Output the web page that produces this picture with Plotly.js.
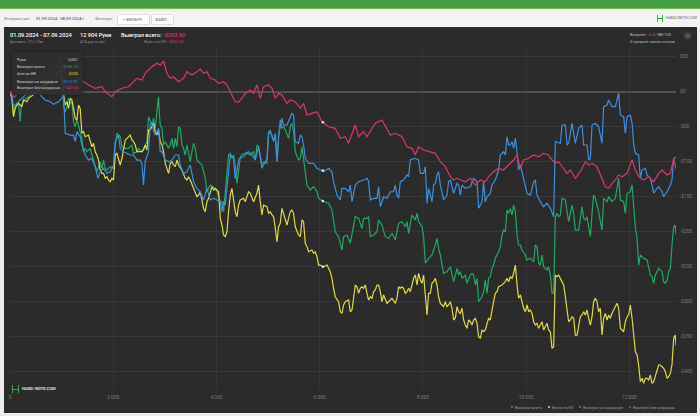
<!DOCTYPE html>
<html><head><meta charset="utf-8">
<script src="https://cdn.plot.ly/plotly-3.0.1.min.js"></script>
<style>
html,body{margin:0;padding:0;}
body{width:700px;height:416px;overflow:hidden;background:#ececec;font-family:Roboto,"Noto Sans",sans-serif;position:relative;}
.abs{position:absolute;white-space:nowrap;line-height:1;}
#topbar{position:absolute;left:0;top:0;width:700px;height:8px;background:#479d45;border-bottom:1.5px solid #6cc04c;}
#toolbar{position:absolute;left:0;top:9.5px;width:700px;height:18px;background:#f3f3f3;}
#panel{position:absolute;left:4px;top:27px;width:693px;height:386px;background:#2b2b2b;}
#chart{position:absolute;left:4px;top:27px;width:693px;height:386px;}
.btn{position:absolute;top:13.5px;height:9px;background:#fff;border:1px solid #dcdcdc;border-radius:1.5px;font-size:4px;color:#555;line-height:9px;text-align:center;}
.tt{font-size:4px;color:#d0d0d0;}
.lg{font-size:3.9px;color:#9a9a9a;}
.hd{font-size:5.6px;color:#fff;font-weight:500;}
.sub{font-size:4px;color:#8a8a8a;}
.dot{display:inline-block;width:2.4px;height:2.4px;border-radius:50%;margin-right:1.6px;vertical-align:middle;position:relative;top:-0.3px;}
</style></head>
<body>
<div id="topbar"></div>
<div id="toolbar"></div>
<div class="abs" style="left:4px;top:16.8px;font-size:4px;color:#7a7a7a;">Интервал дат:</div>
<div class="abs" style="left:36px;top:16.6px;font-size:4.2px;color:#333;">01.09.2024 - 08.09.2024 <span style="color:#999">▾</span></div>
<div class="abs" style="left:95px;top:16.8px;font-size:4px;color:#7a7a7a;">Фильтры:</div>
<div class="btn" style="left:117px;width:31px;"><span style="color:#888">+</span> ФИЛЬТР...</div>
<div class="btn" style="left:151px;width:21px;">ФАЙЛ...</div>
<div class="abs" style="left:657px;top:14.5px;width:6px;height:7px;border-left:1.5px solid #3aa54a;border-right:1.5px solid #3aa54a;box-sizing:border-box;"></div>
<div class="abs" style="left:657px;top:17.6px;width:6px;height:1.2px;background:#3aa54a;"></div>
<div class="abs" style="left:666px;top:16.6px;font-size:3.7px;color:#666;">HAND<span style="color:#3aa54a">2</span>NOTE.COM</div>

<div id="panel"></div>
<div id="chart"></div>

<!-- header inside panel -->
<div class="abs hd" style="left:10px;top:33px;">01.09.2024 - 07.09.2024</div>
<div class="abs sub" style="left:10px;top:40px;">Активен: 27ч 13м</div>
<div class="abs hd" style="left:80px;top:33px;">12 904 Руки</div>
<div class="abs sub" style="left:80px;top:40px;">474 рук в час</div>
<div class="abs hd" style="left:121px;top:33px;">Выиграл всего: <span style="color:#d8376c">-$203.60</span></div>
<div class="abs sub" style="right:516px;top:40px;">Всего по EV: <span style="color:#d8376c">-$362.41</span></div>
<div class="abs" style="left:630px;top:33px;font-size:4px;color:#b8b8b8;">Винрейт: <span style="color:#d8376c">-6.42</span> BB/100</div>
<div class="abs" style="left:630px;top:40px;font-size:4px;color:#b8b8b8;">5 среднее число столов</div>
<div class="abs" style="left:683px;top:31px;width:9px;height:9px;border-radius:50%;background:#3a3a3a;color:#777;font-size:6px;line-height:9px;text-align:center;">⚙</div>

<!-- tooltip -->
<div class="abs" style="left:12px;top:52px;width:71px;height:43px;background:rgba(46,46,46,0.93);border-radius:2px;box-shadow:0 0 3px rgba(0,0,0,0.4);"></div>
<div class="abs tt" style="left:17px;top:58.3px;">Рука</div>
<div class="abs tt" style="left:17px;top:65.3px;">Выиграл всего</div>
<div class="abs tt" style="left:17px;top:72.3px;">Алл-ин EВ</div>
<div class="abs tt" style="left:17px;top:79.7px;">Выиграл на шоудауне</div>
<div class="abs tt" style="left:17px;top:86.4px;">Выиграл без шоудауна</div>
<div class="abs tt" style="right:622px;top:58.3px;text-align:right;">6,061</div>
<div class="abs tt" style="right:622px;top:65.3px;color:#22a862;">-$156.13</div>
<div class="abs tt" style="right:622px;top:72.3px;color:#e2da44;">-$250</div>
<div class="abs tt" style="right:622px;top:79.7px;color:#3e8fdc;">-$112.51</div>
<div class="abs tt" style="right:622px;top:86.4px;color:#d8376c;">-$43.63</div>

<!-- bottom-left logo -->
<div class="abs" style="left:12px;top:385px;width:7px;height:8px;border-left:1.6px solid #3aa54a;border-right:1.6px solid #3aa54a;box-sizing:border-box;"></div>
<div class="abs" style="left:12px;top:388.6px;width:7px;height:1.3px;background:#3aa54a;"></div>
<div class="abs" style="left:22px;top:387.4px;font-size:4px;color:#e0e0e0;font-weight:bold;">HAND<span style="color:#3aa54a">2</span>NOTE.COM</div>

<!-- legend -->
<div class="abs lg" style="left:511px;top:405.5px;"><span class="dot" style="background:#22a862"></span>Выиграл всего</div>
<div class="abs lg" style="left:548px;top:405.5px;"><span class="dot" style="background:#e2da44"></span>Всего по EV</div>
<div class="abs lg" style="left:579px;top:405.5px;"><span class="dot" style="background:#3e8fdc"></span>Выиграл на шоудауне</div>
<div class="abs lg" style="left:629px;top:405.5px;"><span class="dot" style="background:#d8376c"></span>Выиграл без шоудауна</div>

<script>
// Hands axis and cumulative winnings ($)
var handsTotal = [0,37,68,101,165,198,217,262,353,450,547,643,740,818,895,953,992,1012,1031,1037,1070,1103,1134,1167,1200,1231,1264,1297,1328,1360,1393,1424,1457,1490,1554,1587,1651,1684,1748,1781,1812,1845,1878,1942,2006,2039,2072,2136,2169,2233,2297,2362,2393,2459,2490,2556,2620,2653,2684,2717,2750,2781,2814,2847,2878,2892,2911,2944,2975,3008,3072,3105,3138,3169,3202,3234,3266,3298,3331,3362,3395,3428,3492,3525,3556,3589,3622,3653,3719,3783,3816,3880,3944,4010,4074,4107,4138,4171,4204,4235,4268,4300,4331,4364,4397,4428,4461,4525,4591,4655,4719,4752,4785,4816,4849,4882,4913,4979,5010,5043,5076,5107,5140,5173,5204,5236,5269,5300,5333,5366,5397,5430,5463,5494,5527,5591,5624,5657,5688,5721,5754,5818,5882,5948,5979,6076,6173,6238,6302,6366,6432,6463,6529,6593,6626,6657,6690,6754,6819,6851,6917,6948,6981,7045,7111,7142,7207,7271,7335,7401,7465,7529,7595,7659,7692,7723,7789,7853,7886,7917,7983,8014,8047,8111,8176,8241,8273,8304,8338,8370,8401,8467,8531,8595,8628,8661,8692,8725,8758,8822,8855,8886,8919,8952,8983,9016,9049,9080,9145,9177,9209,9242,9273,9306,9339,9370,9403,9467,9500,9533,9564,9597,9630,9661,9694,9727,9758,9791,9824,9855,9888,9920,9985,10018,10081,10146,10178,10211,10242,10275,10308,10339,10405,10436,10469,10502,10533,10566,10599,10630,10663,10696,10760,10793,10824,10890,10921,10954,11018,11083,11115,11148,11180,11212,11245,11277,11308,11341,11405,11471,11502,11568,11599,11665,11729,11793,11826,11890,11922,11956,12019,12053,12085,12117,12150,12180,12213,12277,12343,12374,12407,12440,12471,12504,12537,12568,12634,12665,12698,12731,12762,12795,12826,12859,12890,12904];
var wonTotal = [0,-9.4,-33.3,-21.4,-16.6,-42.9,-21.4,-11.9,-7.6,-0.4,5.3,9.6,16.7,23.9,33.9,45.3,48.1,31,16.7,-21.4,-28.6,-21.4,-9.4,-16.6,-14.3,-42.9,-50,-40.4,-50,-57.1,-66.6,-85.7,-80.9,-85.7,-80.9,-90.4,-104.7,-114.3,-100,-109.4,-97.6,-109.4,-111.9,-107.1,-109.4,-76.1,-59.4,-64.3,-78.6,-80.9,-80.9,-76.1,-88,-85.7,-80.9,-85.7,-76.1,-71.4,-35.7,-42.9,-47.6,-38,-52.3,-28.6,-7.1,-28.6,-47.6,-52.3,-76.1,-71.4,-80.9,-76.1,-66.6,-80.9,-66.6,-78.6,-50,-52.3,-76.1,-80.9,-90.4,-76.1,-100,-85.7,-73.7,-80.9,-97.6,-100,-104.7,-123.7,-142.9,-133.3,-135.7,-142.9,-157.1,-157.1,-171.4,-142.9,-114.3,-90.4,-88,-95.1,-90.4,-104.7,-130.9,-111.9,-95.1,-92.9,-88,-90.4,-85.7,-97.6,-76.1,-78.6,-90.4,-104.7,-100,-102.3,-59.4,-54.7,-64.3,-69,-66.6,-100,-66.6,-40.4,-52.3,-50,-54.7,-61.9,-66.6,-50,-45.1,-57.1,-85.7,-97.6,-95.1,-78.6,-97.6,-119,-133.3,-140.4,-135.7,-142.9,-152.3,-157.1,-159.4,-169,-200,-207.1,-226.1,-207.1,-204.7,-216.6,-204.7,-195.1,-178.6,-180.9,-195.1,-180.9,-180.9,-178.6,-207.1,-204.7,-200,-183.3,-190.4,-207.1,-209.4,-202.3,-211.9,-188,-185.7,-192.9,-185.7,-202.3,-176.1,-183.3,-173.7,-185.7,-192.9,-207.1,-245.1,-238,-233.3,-219,-209.4,-223.7,-233.3,-247.6,-259.4,-257.1,-250,-271.4,-261.9,-252.3,-261.9,-257.1,-266.6,-261.9,-273.7,-266.6,-261.9,-259.4,-261.9,-276.1,-266.6,-300,-292.9,-285.7,-269,-288,-266.6,-264.3,-252.3,-247.6,-238,-228.6,-221.4,-204.7,-197.6,-200,-169,-173.7,-166.6,-176.1,-161.9,-171.4,-204.7,-219,-219,-226.1,-233.3,-240.4,-238,-242.9,-219,-221.4,-245.1,-247.6,-233.3,-250,-254.7,-250,-261.9,-288,-288,-178.6,-173.7,-178.6,-176.1,-152.3,-154.7,-171.4,-185.7,-161.9,-173.7,-197.6,-197.6,-164.3,-180.9,-183.3,-178.6,-192.9,-207.1,-173.7,-147.6,-152.3,-171.4,-197.6,-152.3,-157.1,-150,-157.1,-152.3,-123.7,-154.7,-157.1,-173.7,-145.1,-142.9,-133.3,-166.6,-195.1,-209.4,-247.6,-233.3,-238,-240.4,-252.3,-261.9,-264.3,-273.7,-261.9,-257.1,-252.3,-257.1,-271.4,-273.7,-269,-257.1,-252.3,-219,-192.9,-190.4,-203.6];

var handsEV = [0,37,68,101,134,165,231,262,328,359,450,547,643,740,837,915,973,1012,1070,1103,1134,1167,1200,1231,1264,1297,1328,1360,1393,1424,1457,1521,1554,1587,1618,1651,1684,1715,1748,1781,1812,1845,1878,1909,1942,1975,2006,2039,2072,2103,2136,2169,2200,2233,2266,2297,2329,2362,2393,2426,2459,2490,2556,2587,2620,2653,2684,2717,2750,2781,2814,2847,2878,2911,2944,2975,3008,3041,3072,3105,3138,3169,3202,3234,3266,3331,3362,3395,3428,3459,3492,3556,3589,3622,3653,3686,3719,3750,3783,3816,3847,3880,3913,3944,3977,4041,4074,4107,4138,4171,4204,4235,4268,4300,4331,4364,4397,4428,4461,4525,4558,4591,4622,4655,4688,4719,4785,4816,4849,4882,4913,4979,5010,5043,5076,5107,5140,5173,5204,5236,5269,5300,5333,5366,5397,5430,5463,5494,5527,5591,5624,5657,5688,5721,5754,5785,5851,5882,5915,5948,5979,6012,6076,6142,6205,6238,6269,6302,6366,6399,6432,6463,6496,6560,6593,6626,6657,6690,6723,6754,6787,6819,6851,6884,6917,6948,6981,7014,7045,7078,7111,7142,7175,7207,7239,7271,7304,7335,7401,7465,7498,7529,7562,7595,7626,7659,7692,7723,7756,7789,7820,7853,7886,7917,7950,7983,8014,8047,8080,8111,8143,8176,8208,8241,8273,8304,8338,8370,8401,8434,8467,8498,8531,8564,8595,8628,8661,8692,8725,8758,8789,8822,8855,8886,8919,8952,8983,9016,9049,9080,9113,9145,9177,9209,9242,9273,9306,9339,9370,9403,9436,9467,9533,9564,9597,9630,9661,9694,9727,9758,9791,9824,9855,9888,9920,9952,9985,10018,10049,10081,10114,10146,10178,10211,10242,10275,10308,10339,10372,10405,10436,10469,10502,10533,10566,10599,10630,10663,10696,10727,10760,10793,10824,10857,10890,10921,10954,10987,11018,11051,11083,11115,11148,11180,11212,11245,11277,11308,11341,11374,11405,11438,11471,11502,11535,11568,11599,11632,11665,11729,11762,11793,11826,11859,11890,11922,11956,11986,12019,12053,12085,12117,12150,12180,12213,12246,12277,12310,12343,12374,12407,12440,12471,12504,12537,12568,12601,12634,12665,12698,12731,12762,12795,12826,12859,12890,12904];
var wonEV = [0,-9.4,-35.7,-23.7,-19,-16.6,-21.4,-11.9,-14.3,-9.4,-4.7,2.4,8.1,11,16.7,23.9,31,9.6,-19,-14.3,-23.7,-9.4,-11.9,-23.7,-38,-40.4,-19,-23.7,-59.4,-57.1,-64.3,-61.9,-71.4,-78.6,-73.7,-85.7,-90.4,-97.6,-111.9,-116.6,-116.6,-123.7,-121.4,-126.1,-128.6,-123.7,-126.1,-90.4,-88,-97.6,-104.7,-95.1,-83.3,-69,-66.6,-64.3,-61.9,-69,-71.4,-76.1,-85.7,-85.7,-85.7,-83.3,-76.1,-83.3,-54.7,-54.7,-50,-45.1,-57.1,-61.9,-54.7,-71.4,-76.1,-85.7,-102.3,-109.4,-116.6,-102.3,-100,-104.7,-107.1,-97.6,-104.7,-111.9,-119,-123.7,-126.1,-121.4,-126.1,-138,-142.9,-150,-147.6,-142.9,-154.7,-166.6,-171.4,-157.1,-152.3,-145.1,-135.7,-140.4,-138,-142.9,-180.9,-190.4,-204.7,-207.1,-200,-171.4,-147.6,-138,-152.3,-171.4,-178.6,-161.9,-154.7,-152.3,-157.1,-147.6,-142.9,-145.1,-152.3,-157.1,-145.1,-133.3,-157.1,-176.1,-161.9,-164.3,-173.7,-171.4,-176.1,-178.6,-195.1,-214.3,-192.9,-188,-166.6,-173.7,-180.9,-190.4,-180.9,-171.4,-169,-173.7,-192.9,-204.7,-207.1,-183.3,-185.7,-216.6,-221.4,-228.6,-226.1,-230.9,-228.6,-235.7,-247.6,-247.6,-250,-247.6,-257.1,-266.6,-280.9,-292.9,-300,-314.3,-316.6,-304.7,-300,-297.6,-314.3,-311.9,-295.1,-276.1,-278.6,-288,-280.9,-278.6,-280.9,-276.1,-288,-297.6,-292.9,-295.1,-285.7,-283.3,-276.1,-276.1,-285.7,-300,-290.4,-295.1,-302.3,-300,-295.1,-302.3,-295.1,-278.6,-280.9,-278.6,-280.9,-288,-285.7,-280.9,-285.7,-276.1,-266.6,-261.9,-276.1,-259.4,-269,-273.7,-261.9,-290.4,-319,-288,-288,-273.7,-271.4,-266.6,-276.1,-292.9,-302.3,-304.7,-307.1,-300,-307.1,-304.7,-300,-309.4,-326.1,-323.7,-307.1,-314.3,-316.6,-309.4,-326.1,-333.3,-338,-326.1,-328.6,-333.3,-326.1,-323.7,-330.9,-350,-352.3,-340.4,-342.9,-340.4,-333.3,-323.7,-326.1,-309.4,-300,-288,-285.7,-278.6,-276.1,-273.7,-271.4,-266.6,-271.4,-264.3,-266.6,-259.4,-247.6,-276.1,-295.1,-290.4,-302.3,-309.4,-314.3,-304.7,-314.3,-311.9,-316.6,-328.6,-333.3,-330.9,-338,-333.3,-328.6,-340.4,-335.7,-330.9,-340.4,-342.9,-366.6,-364.3,-261.9,-264.3,-261.9,-266.6,-271.4,-276.1,-292.9,-314.3,-328.6,-326.1,-321.4,-323.7,-347.6,-347.6,-333.3,-321.4,-319,-314.3,-319,-311.9,-323.7,-333.3,-321.4,-300,-295.1,-300,-314.3,-309.4,-347.6,-323.7,-316.6,-326.1,-319,-323.7,-316.6,-307.1,-302.3,-309.4,-338,-340.4,-342.9,-328.6,-321.4,-319,-304.7,-323.7,-352.3,-371.4,-376.1,-390.4,-414.3,-409.4,-416.6,-409.4,-409.4,-411.9,-404.7,-416.6,-414.3,-407.1,-397.6,-390.4,-390.4,-392.9,-395.1,-400,-409.4,-407.1,-402.3,-390.4,-352.3,-347.6,-362.41];

var handsSD = [0,37,68,134,198,295,424,552,682,779,843,940,1006,1037,1070,1167,1231,1264,1297,1360,1393,1457,1521,1587,1651,1704,1748,1812,1878,1942,2006,2039,2103,2136,2200,2266,2329,2393,2459,2523,2556,2587,2620,2684,2717,2750,2781,2814,2878,2911,2944,3008,3072,3138,3202,3266,3298,3362,3428,3492,3556,3622,3686,3750,3816,3880,3944,4010,4074,4107,4138,4171,4204,4235,4268,4331,4364,4397,4428,4494,4558,4622,4688,4752,4816,4882,4946,4979,5010,5076,5107,5140,5173,5204,5269,5300,5366,5397,5430,5463,5494,5527,5591,5624,5657,5688,5721,5785,5882,5948,6012,6076,6173,6238,6269,6335,6399,6432,6496,6560,6593,6626,6690,6754,6851,6917,6948,6981,7045,7111,7142,7175,7239,7304,7368,7432,7465,7498,7529,7562,7626,7692,7723,7756,7853,7917,7950,8014,8047,8080,8111,8176,8208,8241,8273,8304,8338,8401,8467,8498,8531,8595,8661,8692,8725,8758,8822,8919,8983,9049,9080,9145,9177,9209,9242,9306,9339,9403,9467,9500,9564,9597,9630,9661,9694,9727,9758,9791,9824,9855,9888,9952,10018,10081,10146,10178,10211,10275,10339,10405,10469,10533,10566,10663,10696,10760,10793,10824,10890,10921,10954,11018,11083,11115,11180,11212,11245,11277,11341,11405,11471,11502,11568,11599,11665,11729,11793,11826,11890,11922,11956,12019,12053,12085,12117,12180,12213,12246,12310,12343,12407,12440,12471,12537,12568,12634,12665,12731,12795,12826,12859,12904];
var wonSD = [0,-4.7,-21.4,-16.6,-11.9,-4.7,0,-2.3,-11.9,-14.3,-18,-14.3,-9.4,0,-59.4,-61.9,-61.9,-71.4,-57.1,-64.3,-76.1,-90.4,-97.6,-95.1,-107.1,-123.7,-114.3,-109.4,-116.6,-114.3,-104.7,-71.4,-61.9,-80.9,-85.7,-88,-90.4,-90.4,-97.6,-97.6,-102.3,-133.1,-100,-85.7,-47.6,-42.9,-57.1,-61.9,-52.3,-85.7,-85.7,-97.6,-100,-97.6,-90.4,-90.4,-104.7,-116.6,-114.3,-104.7,-128.6,-138,-142.9,-154.7,-138,-154.7,-152.3,-154.7,-157.1,-171.4,-157.1,-161.9,-138,-114.3,-90.4,-95.1,-123.7,-114.3,-97.6,-90.4,-88,-85.7,-90.4,-97.6,-78.6,-109.4,-100,-95.1,-57.1,-61.9,-71.4,-59.4,-100,-61.9,-38,-47.6,-47.6,-42.9,-35.7,-30.9,-33.3,-71.4,-73.7,-61.9,-64.3,-76.1,-95.1,-102.3,-102.3,-109.4,-111.9,-114.3,-109.4,-114.3,-128.6,-147.6,-154.7,-138,-138,-142.9,-133.3,-157.1,-133.3,-128.6,-126.1,-123.7,-128.6,-154.7,-152.3,-152.3,-135.7,-164.3,-150,-152.3,-142.9,-142.9,-133.3,-147.6,-152.3,-128.6,-126.1,-119,-121.4,-97.6,-95.1,-97.6,-116.6,-116.6,-107.1,-159.4,-138,-157.1,-133.3,-130.9,-119,-114.3,-133.3,-154.7,-147.6,-128.6,-126.1,-145.1,-130.9,-133.3,-147.6,-133.3,-138,-135.7,-123.7,-128.6,-166.6,-157.1,-128.6,-157.1,-150,-145.1,-133.3,-126.1,-111.9,-90.4,-85.7,-90.4,-64.3,-76.1,-76.1,-71.4,-80.9,-66.6,-85.7,-111.9,-104.7,-126.1,-145.1,-147.6,-128.6,-126.1,-147.6,-157.1,-164.3,-159.4,-166.6,-178.6,-71.4,-73.7,-47.6,-47.6,-76.1,-73.7,-45.1,-59.4,-73.7,-52.3,-47.6,-76.1,-76.1,-97.6,-95.1,-47.6,-45.1,-50,-73.7,-21.4,-19,-11.9,-21.4,-21.4,-2.3,-33.3,-35.7,-59.4,-35.7,-33.3,-45.1,-76.1,-88,-90.4,-123.7,-111.9,-109.4,-119,-123.7,-133.3,-145.1,-138,-135.7,-142.9,-150,-142.9,-133.3,-126.1,-95.1,-93.6];

var handsNSD = [0,81,159,275,391,508,624,740,857,934,1012,1089,1167,1283,1360,1424,1521,1651,1781,1845,1975,2039,2169,2297,2362,2459,2556,2620,2684,2750,2847,2911,2975,3041,3105,3169,3266,3362,3428,3525,3622,3686,3750,3816,3880,3977,4041,4138,4204,4300,4364,4428,4461,4558,4655,4719,4785,4849,4913,5010,5076,5140,5204,5269,5366,5430,5527,5624,5688,5754,5851,5948,6045,6173,6302,6399,6496,6560,6690,6754,6851,6917,7014,7078,7207,7304,7368,7465,7595,7692,7789,7853,7917,8014,8111,8241,8338,8434,8531,8595,8661,8725,8822,8919,9016,9113,9209,9273,9370,9467,9564,9661,9758,9824,9888,9952,10049,10146,10242,10339,10436,10502,10566,10630,10696,10793,10857,10954,11051,11148,11212,11277,11374,11471,11535,11599,11665,11729,11793,11859,11956,12053,12117,12180,12277,12374,12471,12568,12634,12731,12795,12859,12904];
var wonNSD = [0,-7.6,-1.9,5.3,9.6,13.9,19.6,25.3,31,36.7,31,25.3,19.6,16.7,19.6,14.3,9.6,4.9,7.1,0,-7.1,0,4.9,7.1,12,19.1,16.7,26.3,31,35.7,40.6,38.1,43.9,26.3,19.1,21.4,14.3,19.1,28.6,23.9,28.6,32.4,26.3,28.6,19.1,16.7,12,14.3,9.6,-4.7,-14.3,-15.1,-11.9,-2.3,2.4,-2.3,9.6,-9.4,7.1,9.6,4.9,-9.4,-2.3,-4.7,-16.6,-11.9,-14.3,-23.7,-16.6,-33.3,-30.9,-28.6,-42.9,-50,-52.3,-66.6,-64.3,-73.7,-47.6,-64.3,-57.1,-64.3,-52.3,-45.1,-40.4,-52.3,-61.9,-59.4,-64.3,-78.6,-80.9,-90.4,-78.6,-83.3,-85.7,-88,-100,-107.1,-121.4,-126.1,-123.7,-126.1,-128.6,-123.7,-133.3,-126.1,-128.6,-121.4,-114.3,-109.4,-111.9,-104.7,-97.6,-90.4,-109.4,-97.6,-95.1,-90.4,-92.9,-88,-90.4,-97.6,-102.3,-100,-107.1,-116.6,-111.9,-123.7,-114.3,-100,-104.7,-102.3,-107.1,-123.7,-135.7,-138,-130.9,-126.1,-119,-121.4,-116.6,-97.6,-111.9,-121.4,-126.1,-121.4,-128.6,-116.6,-111.9,-119,-116.6,-95.1,-110];

// hovered hand shown in tooltip
var hoverHand = 6061;
var hoverValues = [-156.13, -250, -112.51, -43.63];

var seriesNames = ['Выиграл всего','Всего по EV','Выиграл на шоудауне','Выиграл без шоудауна'];
var seriesColors = ['#22a862','#e2da44','#3e8fdc','#d8376c'];

var yTickVals = [50,0,-50,-100,-150,-200,-250,-300,-350,-400];
var yTickText = ['$50','$0','-$50','-$100','-$150','-$200','-$250','-$300','-$350','-$400'];
var xTickVals = [0,2000,4000,6000,8000,10000,12000];
var xTickText = ['0','2 000','4 000','6 000','8 000','10 000','12 000'];

function line(x,y,i){
  return {type:'scatter',mode:'lines',x:x,y:y,name:seriesNames[i],
    line:{color:seriesColors[i],width:1.2},hoverinfo:'skip',showlegend:false};
}
var traces = [
  line(handsTotal,wonTotal,0),
  line(handsEV,wonEV,1),
  line(handsSD,wonSD,2),
  line(handsNSD,wonNSD,3),
  {type:'scatter',mode:'markers',x:[hoverHand,hoverHand,hoverHand,hoverHand],y:hoverValues,
    marker:{color:'#e8e8e8',size:2.4},showlegend:false,hoverinfo:'skip'}
];
var layout = {
  width:693,height:386,
  margin:{l:6,r:21,t:19,b:24},
  paper_bgcolor:'rgba(0,0,0,0)',plot_bgcolor:'rgba(0,0,0,0)',
  showlegend:false,
  font:{family:'Roboto, sans-serif',size:5,color:'#8a8a8a'},
  xaxis:{range:[0,12904],tickvals:xTickVals,ticktext:xTickText,showgrid:true,gridcolor:'#353535',gridwidth:1,
    zeroline:false,showline:false,ticks:'',ticklabelstandoff:4,tickfont:{size:4.8,color:'#7a7a7a'}},
  yaxis:{range:[-424.7,65.3],side:'right',tickvals:yTickVals,ticktext:yTickText,showgrid:true,gridcolor:'#383838',gridwidth:1,
    zeroline:true,zerolinecolor:'#505050',zerolinewidth:1.6,showline:false,ticks:'',ticklabelstandoff:3,tickfont:{size:4.8,color:'#7a7a7a'}}
};
Plotly.newPlot('chart',traces,layout,{staticPlot:true,displayModeBar:false});
</script>
</body></html>
